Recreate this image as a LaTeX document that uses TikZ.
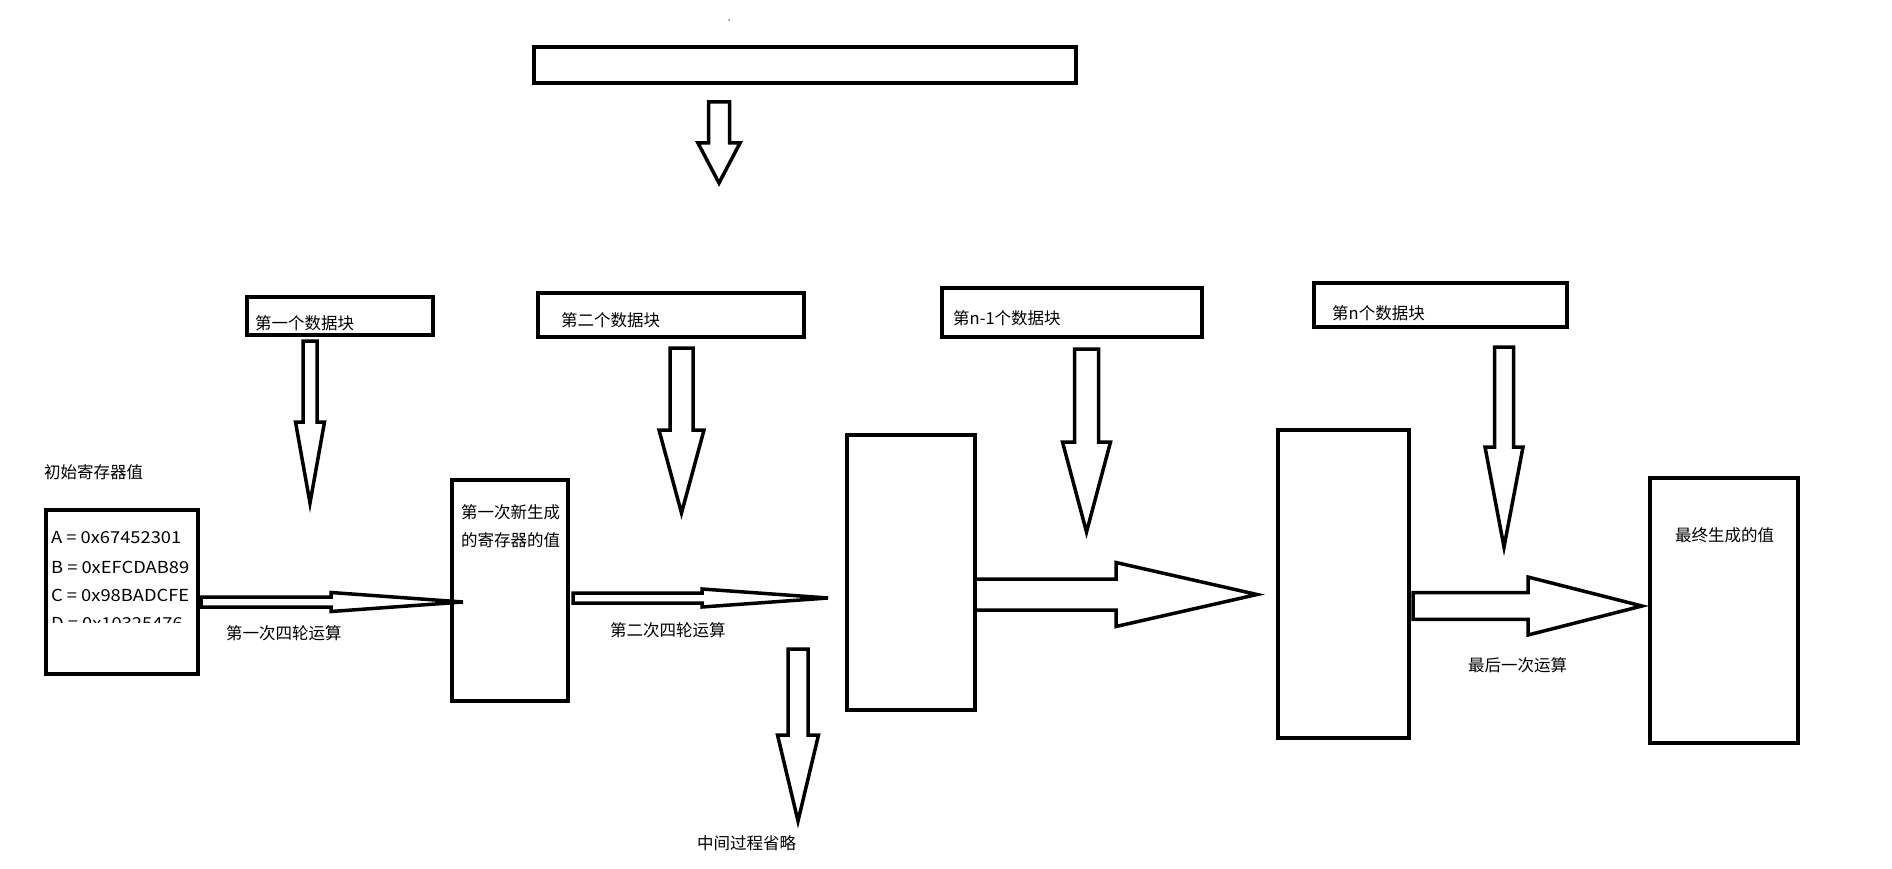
\documentclass[tikz,border=0pt]{standalone}
\usepackage{fontspec}
\setmainfont{Noto Sans CJK SC}
\newfontfamily\hexfont[FakeStretch=1.11]{Noto Sans CJK SC}
\tikzset{
  box/.style={draw, line width=4pt, inner sep=0pt},
  lbl/.style={anchor=west, inner sep=0pt},
  hex/.style={lbl, font=\fontsize{16.5}{20}\hexfont},
  blockarrow/.style={draw, line width=3.5pt},
}
% down block arrow: centre x, top, head start, tip, shaft half width, head half width
\newcommand{\downblock}[6]{%
  \draw[blockarrow] (#1-#5,#2) -- (#1+#5,#2) -- (#1+#5,#3) -- (#1+#6,#3)
    -- (#1,#4) -- (#1-#6,#3) -- (#1-#5,#3) -- cycle;}
% right block arrow: centre y, left, head start, tip, shaft half width, head half width
\newcommand{\rightblock}[6]{%
  \draw[blockarrow] (#2,#1-#5) -- (#3,#1-#5) -- (#3,#1-#6) -- (#4,#1)
    -- (#3,#1+#6) -- (#3,#1+#5) -- (#2,#1+#5) -- cycle;}
\begin{document}
\begin{tikzpicture}[x=1pt, y=-1pt, font=\fontsize{16.5}{20}\selectfont]
  \useasboundingbox[fill=white] (0,0) rectangle (1892,869);
  \fill[gray] (729,20) circle (1pt);

  % message
  \node[box, minimum width=542pt, minimum height=36pt] (msg) at (805,65) {};
  \downblock{719}{102}{143}{183}{10.5}{21}

  % data blocks
  \node[box, minimum width=186pt, minimum height=38pt] (blk1) at (340,316) {};
  \node[lbl] (blk1txt) at (255,323) {第一个数据块};
  \node[box, minimum width=266pt, minimum height=44pt] (blk2) at (671,315) {};
  \node[lbl] (blk2txt) at (561,320) {第二个数据块};
  \node[box, minimum width=260pt, minimum height=49pt] (blkm) at (1072,312.5) {};
  \node[lbl] (blkmtxt) at (953,318) {第n-1个数据块};
  \node[box, minimum width=253pt, minimum height=44pt] (blkn) at (1440.5,305) {};
  \node[lbl] (blkntxt) at (1332,313) {第n个数据块};

  \downblock{310}{341}{422}{503}{7}{14.5}
  \downblock{681.5}{348}{430}{513}{11.5}{22.5}
  \downblock{1086.5}{349}{442}{532}{12}{24}
  \downblock{1504}{347}{447}{547}{9.5}{19}

  % registers
  \node[lbl] (initlbl) at (44,472) {初始寄存器值};
  \node[box, minimum width=152pt, minimum height=164pt] (reg0) at (122,592) {};
  \node[hex] (regA) at (51,538) {A = 0x67452301};
  \node[hex] (regB) at (51,567) {B = 0xEFCDAB89};
  \node[hex] (regC) at (51,595) {C = 0x98BADCFE};
  \begin{scope}
    \clip (48,512) rectangle (196,622);
    \node[hex] (regD) at (51,624) {D = 0x10325476};
  \end{scope}

  \node[box, minimum width=116pt, minimum height=221pt] (reg1) at (510,590.5) {};
  \node[lbl] (reg1a) at (461,512) {第一次新生成};
  \node[lbl] (reg1b) at (461,540) {的寄存器的值};
  \node[box, minimum width=128pt, minimum height=275pt] (reg2) at (911,572.5) {};
  \node[box, minimum width=131pt, minimum height=308pt] (reg3) at (1343.5,584) {};
  \node[box, minimum width=148pt, minimum height=265pt] (final) at (1724,610.5) {};
  \node[lbl] (finaltxt) at (1675,535) {最终生成的值};

  % rounds
  \rightblock{602}{201}{331}{463}{5}{9.5}
  \node[lbl] (round1) at (226,633) {第一次四轮运算};
  \rightblock{598}{573}{702}{828}{5}{9}
  \node[lbl] (round2) at (610,630) {第二次四轮运算};
  \rightblock{594.5}{975}{1116}{1257}{15.5}{32}
  \rightblock{606}{1413}{1528}{1642}{13.3}{29}
  \node[lbl] (roundn) at (1468,665) {最后一次运算};

  % skipped rounds
  \downblock{798}{649}{735}{821}{10}{20.5}
  \node[lbl] (skip) at (697,843) {中间过程省略};
\end{tikzpicture}
\end{document}
